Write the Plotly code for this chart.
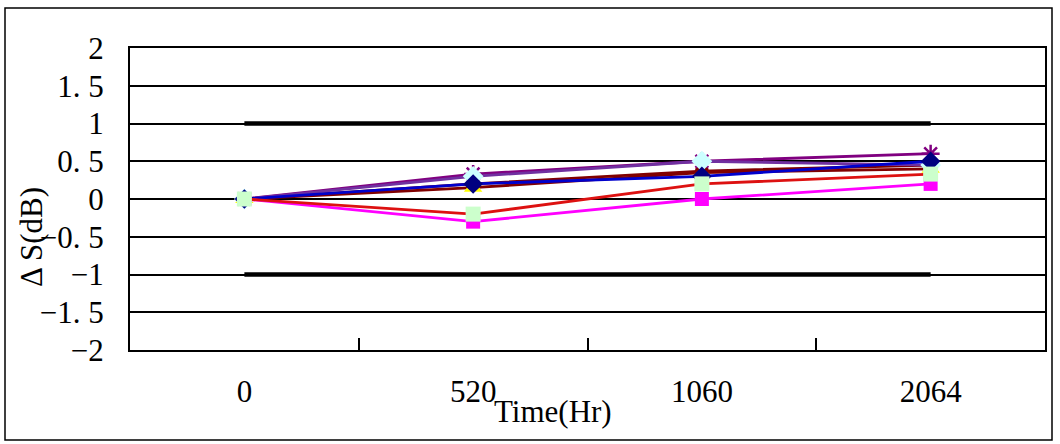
import plotly.graph_objects as go

times = ["0", "520", "1060", "2064"]
y_tickvals = [-2, -1.5, -1, -0.5, 0, 0.5, 1, 1.5, 2]
y_ticktext = ["\u22122", "\u22121. 5", "\u22121", "\u22120. 5", "0", "0. 5", "1", "1. 5", "2"]

limit_upper = [1, 1, 1, 1]
limit_lower = [-1, -1, -1, -1]

s_navy = [0, 0.2, 0.3, 0.5]
s_magenta = [0, -0.3, 0, 0.2]
s_yellow = [0, 0.15, 0.35, 0.4]
s_purple = [0, 0.33, 0.5, 0.6]
s_maroon = [0, 0.2, 0.37, 0.45]
s_violet = [0, 0.3, 0.5, 0.45]
s_green = [0, -0.2, 0.2, 0.33]

FONT = "Liberation Serif"
FS = 31

fig = go.Figure()

for lim in (limit_upper, limit_lower):
    fig.add_trace(go.Scatter(x=times, y=lim, mode="lines",
                             line=dict(color="black", width=4.5), hoverinfo="skip"))

series = [
    (s_yellow, "#800000", "triangle-up", "#FFFF00", 16),
    (s_maroon, "#800000", "circle", "#800000", 14),
    (s_purple, "#800080", "asterisk-open", "#800080", 15),
    (s_violet, "#7030A0", "diamond", "#CCFFFF", 16),
    (s_navy, "#0000CC", "diamond", "#000080", 15),
    (s_magenta, "#FF00FF", "square", "#FF00FF", 14),
    (s_green, "#DD1111", "square", "#CCFFCC", 15),
]
for vals, lc, sym, mc, ms in series:
    mk = dict(symbol=sym, color=mc, size=ms)
    if sym == "asterisk-open":
        mk["line"] = dict(color=mc, width=2.5)
    else:
        mk["line"] = dict(width=0)
    fig.add_trace(go.Scatter(x=times, y=vals, mode="lines+markers",
                             line=dict(color=lc, width=2.8), marker=mk))

fig.update_layout(
    width=1060, height=444,
    margin=dict(l=130, r=15, t=48, b=94),
    paper_bgcolor="white", plot_bgcolor="white",
    showlegend=False,
    font=dict(family=FONT, size=FS, color="black"),
    xaxis=dict(type="category", categoryorder="array", categoryarray=times,
               range=[-0.5, 3.5], tickson="boundaries", ticks="inside",
               ticklen=12, tickwidth=1.5, tickcolor="black",
               showgrid=False, showline=True, linecolor="black", linewidth=2,
               mirror=True, ticklabelstandoff=13, automargin=False,
               tickfont=dict(family=FONT, size=FS)),
    yaxis=dict(range=[-2, 2], tickvals=y_tickvals, ticktext=y_ticktext,
               showgrid=True, gridcolor="black", gridwidth=1.5,
               zeroline=False, showline=True, linecolor="black", linewidth=2,
               mirror=True, ticks="", ticklabelstandoff=18, automargin=False,
               tickfont=dict(family=FONT, size=FS)),
)

fig.add_annotation(text="Time(Hr)", xref="paper", yref="paper",
                   x=(553 - 130) / 915, y=(350 - 411) / 302, showarrow=False,
                   font=dict(family=FONT, size=FS), xanchor="center", yanchor="middle")
fig.add_annotation(text="\u0394 S(dB)", xref="paper", yref="paper",
                   x=(31 - 130) / 915, y=(350 - 237) / 302, showarrow=False,
                   textangle=-90, font=dict(family=FONT, size=FS),
                   xanchor="center", yanchor="middle")

fig.add_shape(type="rect", xref="paper", yref="paper",
              x0=(5 - 130) / 915, x1=(1052 - 130) / 915,
              y0=(350 - 440) / 302, y1=(350 - 8) / 302,
              line=dict(color="black", width=1.5), layer="below")

fig.write_html("out.html", config={"displayModeBar": False},
               post_script="document.body.style.margin='0';document.body.style.overflow='hidden';")
